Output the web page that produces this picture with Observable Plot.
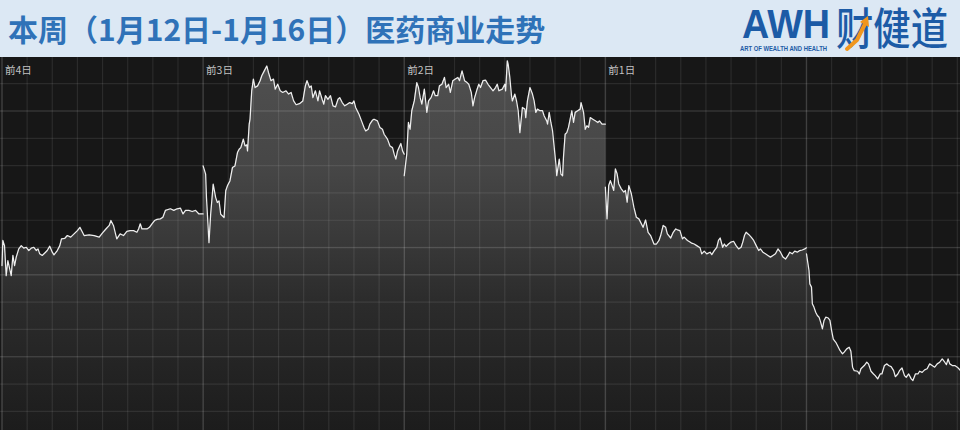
<!DOCTYPE html>
<html><head><meta charset="utf-8">
<script src="https://cdn.jsdelivr.net/npm/d3@7"></script>
<script src="https://cdn.jsdelivr.net/npm/@observablehq/plot@0.6"></script>
<style>
html,body{margin:0;padding:0;background:#dce8f4;width:960px;height:430px;overflow:hidden}
#header{position:relative;height:57px;background:#dce8f4}
#title{position:absolute;left:8px;top:0;line-height:56px;font-family:"Noto Sans CJK SC";font-weight:700;font-size:30px;color:#2f72b8;white-space:nowrap}
#logo{position:absolute;left:730px;top:0}
#chart svg{display:block}
</style></head><body>
<div id="header">
  <div id="title">本周（1月12日-1月16日）医药商业走势</div>
  <svg id="logo" width="230" height="57">
    <text x="12" y="38" font-family="Liberation Sans" font-weight="900" font-size="41" fill="#1c5ba6" textLength="88" lengthAdjust="spacingAndGlyphs">AWH</text>
    <text x="10" y="50.5" font-family="Liberation Sans" font-weight="700" font-size="7.2" fill="#1c5ba6" textLength="87" lengthAdjust="spacingAndGlyphs">ART OF WEALTH AND HEALTH</text>
    <text x="106" y="45" font-family="Noto Sans CJK SC" font-weight="500" font-size="44" fill="#1c5ba6" textLength="112" lengthAdjust="spacingAndGlyphs">财健道</text>
    <path d="M117 49 L127 40 L135 24" fill="none" stroke="#f0961e" stroke-width="4" stroke-linecap="round"/>
    <path d="M130 22 L138 16 L139 27 Z" fill="#f0961e"/>
  </svg>
</div>
<div id="chart"></div>
<script>
// minute of trading day, change value (grid step = 1)
const day1 = [[0,-0.66],[1,0.26],[3,0.07],[5,-1.03],[7,-0.48],[11,-1.03],[13,-0.29],[15,-0.66],[17,-0.35],[20,-0.05],[23,0.07],[26,-0.02],[29,0.01],[32,-0.11],[35,-0.02],[38,0.01],[41,-0.11],[43,-0.05],[45,-0.23],[48,-0.29],[52,-0.17],[54,-0.11],[57,0.05],[60,-0.17],[62,-0.27],[66,-0.11],[69,0.07],[71,0.32],[75,0.34],[78,0.44],[82,0.38],[86,0.5],[90,0.62],[93,0.74],[96,0.56],[98,0.44],[104,0.46],[110,0.44],[116,0.38],[120,0.54],[124,0.68],[128,0.81],[130,0.99],[133,0.81],[136,0.44],[137,0.32],[141,0.5],[145,0.44],[149,0.59],[153,0.62],[157,0.62],[161,0.56],[163,0.68],[165,0.87],[167,0.68],[173,0.68],[176,0.74],[179,0.87],[182,0.99],[185,1.03],[189,1.05],[192,1.11],[195,1.36],[201,1.42],[205,1.36],[209,1.42],[213,1.44],[216,1.23],[219,1.36],[223,1.36],[227,1.32],[231,1.36],[235,1.23],[240,1.23]];
const day2 = [[0,2.99],[3,2.69],[4,1.83],[7,0.18],[9,1.22],[12,2.32],[15,1.83],[17,1.65],[19,1.71],[21,1.22],[25,1.1],[27,2.08],[29,2.26],[32,2.44],[35,2.93],[38,2.99],[41,3.48],[43,3.6],[45,3.66],[48,3.97],[50,3.72],[52,3.76],[53,3.54],[55,4.52],[56,4.7],[58,5.74],[60,6.17],[62,5.86],[65,5.92],[68,6.11],[70,6.29],[73,6.47],[76,6.65],[78,6.41],[81,6.11],[84,6.17],[86,5.8],[89,5.98],[92,5.74],[95,5.68],[99,5.74],[102,5.62],[105,5.68],[108,5.37],[111,5.23],[115,5.27],[119,5.37],[122,5.92],[124,6.11],[127,5.86],[129,5.92],[131,5.49],[134,5.74],[137,5.37],[139,5.74],[142,5.43],[144,5.25],[146,5.56],[149,5.43],[152,5.56],[155,5.19],[158,5.15],[161,5.43],[163,5.49],[166,5.31],[169,5.19],[172,5.25],[175,5.31],[178,5.27],[180,5.37],[182,5.13],[186,4.88],[189,4.64],[192,4.4],[194,4.27],[197,4.33],[199,4.52],[202,4.66],[204,4.7],[208,4.64],[211,4.4],[214,4.33],[216,4.15],[220,3.97],[223,3.72],[226,3.66],[228,3.42],[230,3.24],[232,3.54],[236,3.81],[238,3.54],[240,3.42]];
const day3 = [[0,2.63],[3,3.42],[5,4.58],[7,4.33],[9,5.01],[12,5.37],[15,6.04],[17,5.86],[19,5.49],[21,5.25],[24,5.8],[27,4.95],[29,5.37],[32,5.49],[35,5.74],[37,5.56],[40,5.56],[42,5.92],[45,5.98],[48,6.23],[50,5.86],[53,5.98],[55,5.68],[58,6.11],[61,6.17],[64,6.23],[66,6.11],[69,6.47],[72,6.11],[75,6.04],[77,5.98],[80,5.68],[82,5.19],[84,5.49],[87,5.8],[89,5.98],[91,5.86],[94,6.11],[97,6.13],[100,5.98],[103,5.86],[106,5.74],[109,5.86],[111,5.98],[113,5.74],[117,5.8],[120,5.98],[121,5.74],[123,6.84],[124,6.72],[126,6.23],[128,5.56],[129,5.37],[132,5.62],[134,5.37],[136,5.01],[138,4.21],[141,5.13],[144,5.07],[145,4.76],[147,5.37],[150,5.86],[153,5.62],[155,5.37],[157,4.95],[159,5.07],[162,5.01],[165,5.01],[167,4.82],[170,4.64],[171,4.52],[173,4.95],[175,4.58],[177,4.27],[179,3.66],[181,3.05],[182,2.63],[185,3.24],[187,2.69],[189,2.63],[190,3.3],[192,4.15],[194,4.21],[196,4.4],[198,4.7],[200,5.01],[202,4.58],[204,4.95],[207,5.01],[210,5.07],[211,5.31],[214,4.95],[216,4.33],[218,4.46],[220,4.4],[222,4.76],[225,4.7],[228,4.64],[231,4.58],[233,4.64],[236,4.52],[240,4.52]];
const day4 = [[0,2.21],[2,1.05],[4,2.27],[6,2.45],[8,2.27],[10,2.09],[12,2.88],[14,2.7],[16,2.33],[19,2.15],[22,2.03],[24,2.09],[26,1.66],[28,2.27],[31,1.97],[34,1.48],[37,1.11],[40,1.05],[42,0.93],[45,0.74],[48,1.01],[51,0.56],[54,0.44],[58,0.13],[61,0.13],[64,0.26],[66,0.44],[69,0.81],[72,0.74],[74,0.5],[78,0.35],[81,0.56],[84,0.68],[86,0.65],[89,0.62],[92,0.32],[94,0.38],[98,0.26],[101,0.2],[103,0.16],[106,0.13],[109,0.07],[113,-0.01],[115,-0.23],[118,-0.13],[121,-0.23],[125,-0.17],[127,-0.26],[130,-0.11],[133,0.01],[135,0.26],[137,0.35],[140,0.01],[142,0.13],[144,0.04],[147,0.13],[150,0.2],[153,0.23],[156,0.07],[159,-0.05],[162,0.01],[164,0.2],[166,0.44],[168,0.56],[171,0.48],[174,0.38],[177,0.26],[180,0.07],[183,-0.11],[185,-0.05],[188,-0.17],[191,-0.23],[194,-0.29],[197,-0.35],[200,-0.29],[203,-0.23],[206,-0.05],[209,-0.17],[212,-0.35],[215,-0.42],[218,-0.29],[220,-0.17],[223,-0.23],[226,-0.13],[229,-0.17],[232,-0.11],[235,-0.09],[238,-0.05],[240,-0.01]];
const day5 = [[0,-0.23],[3,-0.84],[4,-1.33],[6,-1.45],[7,-2.06],[9,-2.19],[11,-2.37],[13,-2.49],[15,-2.55],[17,-2.74],[19,-2.98],[21,-2.67],[23,-2.55],[26,-2.58],[28,-2.67],[30,-3.04],[32,-3.35],[35,-3.47],[37,-3.59],[40,-3.77],[43,-3.89],[45,-3.83],[48,-3.71],[51,-3.65],[53,-3.8],[55,-4.38],[57,-4.51],[61,-4.53],[63,-4.63],[65,-4.44],[69,-4.32],[72,-4.2],[74,-4.26],[77,-4.53],[80,-4.63],[82,-4.69],[85,-4.81],[88,-4.63],[90,-4.63],[93,-4.32],[96,-4.26],[98,-4.32],[101,-4.36],[104,-4.51],[106,-4.73],[109,-4.63],[111,-4.51],[114,-4.41],[117,-4.69],[119,-4.75],[122,-4.63],[125,-4.81],[127,-4.87],[130,-4.63],[133,-4.63],[135,-4.53],[138,-4.57],[141,-4.48],[144,-4.44],[147,-4.26],[150,-4.32],[153,-4.38],[156,-4.26],[159,-4.2],[162,-4.08],[165,-4.2],[167,-4.29],[169,-4.08],[171,-4.26],[174,-4.32],[177,-4.32],[180,-4.38],[184,-4.51]];

const dayLabels = ["前4日", "前3日", "前2日", "前1日"];
const dayStarts = [0, 240, 480, 720, 960];          // minutes since first open
const halfHourTicks = d3.range(0, 1170, 30);
const valueTicks = d3.range(-6, 7, 1);
const strongValueTicks = [5, 0, -1, -4];
const xDomain = [-1.79, 1143.8];
const yDomain = [-6.70, 6.96];

const series = [day1, day2, day3, day4, day5];
const points = series.flatMap((d, i) => d.map(([m, v]) => ({t: dayStarts[i] + m, v, day: i})));

const chart = Plot.plot({
  width: 960, height: 373,
  marginTop: 0, marginRight: 0, marginBottom: 0, marginLeft: 0,
  style: {background: "#171717", overflow: "hidden", fontFamily: "Noto Sans CJK SC"},
  x: {domain: xDomain, axis: null},
  y: {domain: yDomain, axis: null},
  marks: [
    Plot.areaY(points, {x: "t", y1: yDomain[0], y2: "v", z: "day", fill: "url(#fillGrad)"}),
    Plot.ruleY(valueTicks, {stroke: "#fff", strokeOpacity: 0.085, strokeWidth: 1.2}),
    Plot.ruleY(strongValueTicks, {stroke: "#fff", strokeOpacity: 0.07, strokeWidth: 1.5}),
    Plot.ruleX(halfHourTicks, {stroke: "#fff", strokeOpacity: 0.085, strokeWidth: 1.2}),
    Plot.ruleX(dayStarts, {stroke: "#fff", strokeOpacity: 0.1, strokeWidth: 1.6}),
    Plot.line(points, {x: "t", y: "v", z: "day", stroke: "#eeeeee", strokeWidth: 1.25}),
    Plot.text(dayLabels, {x: dayStarts.slice(0, 4), text: d => d, frameAnchor: "top", dx: 3, dy: 9, textAnchor: "start", fill: "#c2c2c2", fontSize: 10.5})
  ]
});

const defs = d3.select(chart).insert("defs", ":first-child");
const grad = defs.append("linearGradient").attr("id", "fillGrad")
  .attr("gradientUnits", "userSpaceOnUse").attr("x1", 0).attr("y1", 0).attr("x2", 0).attr("y2", 373);
[[0, "#505050"], [0.3, "#464646"], [0.5, "#383838"], [0.65, "#2c2c2c"], [1, "#1c1c1c"]]
  .forEach(([o, c]) => grad.append("stop").attr("offset", o).attr("stop-color", c));

document.getElementById("chart").appendChild(chart);
</script>
</body></html>
